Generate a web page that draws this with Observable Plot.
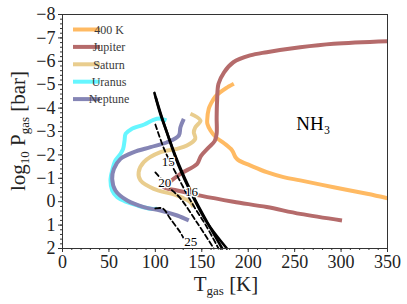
<!DOCTYPE html>
<html><head><meta charset="utf-8">
<script src="https://cdn.jsdelivr.net/npm/d3@7"></script>
<script src="https://cdn.jsdelivr.net/npm/@observablehq/plot@0.6"></script>
<style>body{margin:0;background:#fff} svg text{font-family:"Liberation Serif",serif}</style>
</head><body><div id="chart"></div>
<script>
// ---- data ----
const seriesNames  = ["400 K", "Jupiter", "Saturn", "Uranus", "Neptune"];
const seriesColors = ["#ffba63", "#b56b6b", "#e9cd8e", "#66f6ff", "#8585b5"];

const t400 = [184.5, 176, 170, 164.8, 160, 157.5, 155.8, 156, 159.4, 165, 174, 182.7, 186.3, 190, 202, 220, 238, 256, 292, 328, 350];
const p400 = [-5.04, -4.85, -4.68, -4.5, -4.2, -3.97, -3.47, -3.33, -3.04, -2.76, -2.5, -2.19, -1.9, -1.76, -1.55, -1.26, -1.05, -0.91, -0.62, -0.34, -0.15];

const tJup = [350, 292, 256, 220, 202, 184, 174, 168, 166.5, 166, 166, 164, 157, 149, 145, 127, 112.8, 109, 123.5, 148.6, 184, 220, 256, 301];
const pJup = [-6.86, -6.75, -6.6, -6.39, -6.25, -5.96, -5.53, -5.04, -4.32, -3.61, -2.9, -2.6, -2.3, -1.95, -1.62, -1.19, -0.76, -0.62, -0.48, -0.26, 0.0, 0.23, 0.52, 0.8];

const tSat = [137.8, 148.6, 143, 141.4, 143, 134, 123.5, 105.5, 87.5, 82, 84, 98.3, 123.5, 137.8, 141];
const pSat = [-3.76, -3.47, -3.18, -2.97, -2.69, -2.4, -2.26, -2.12, -1.69, -1.26, -0.91, -0.55, -0.26, 0.02, 0.23];

const tUra = [102, 94.8, 80.4, 69.7, 59, 53.5, 51.7, 53.5, 57, 62.5, 65.3, 66.8, 68, 74, 88, 98, 105, 112];
const pUra = [0.3, 0.3, 0.16, 0.02, -0.19, -0.48, -0.91, -1.33, -1.76, -2.05, -2.26, -2.6, -2.9, -3.1, -3.3, -3.5, -3.55, -3.48];

const tNep = [136, 123.5, 105.5, 87.5, 69.7, 57, 53.5, 55.3, 62.5, 76.8, 94.8, 112.7, 125.3, 127, 130.6];
const pNep = [0.8, 0.59, 0.38, 0.23, -0.05, -0.48, -0.98, -1.4, -1.83, -2.12, -2.33, -2.54, -2.83, -3.18, -3.54];

// condensation curves (black)
const tSolidA = [99, 105, 112, 125, 140, 155, 177];
const pSolidA = [-4.65, -3.8, -3.0, -1.55, -0.25, 0.85, 2.0];
const tSolidB = [100.5, 110, 125, 140, 155, 172];
const pSolidB = [-4.45, -3.25, -1.62, -0.3, 0.82, 2.0];
const tDashC = [100, 110, 125, 140, 155, 168];
const pDashC = [-3.3, -2.2, -1.0, 0.1, 1.05, 2.0];
const tDashD = [100, 115, 127, 145, 163];
const pDashD = [-1.25, -0.6, -0.14, 0.9, 2.0];
const tDashE = [100, 108, 116, 127, 130];
const pDashE = [0.29, 0.29, 0.72, 1.32, 1.53];

const curveLabels = ["15", "20", "16", "25"];
const curveLabelT = [114, 110, 139, 138];
const curveLabelP = [-1.72, -0.82, -0.41, 1.7];

const xTicks = [0, 50, 100, 150, 200, 250, 300, 350];
const yTicks = [-8, -7, -6, -5, -4, -3, -2, -1, 0, 1, 2];
const xMinor = d3.range(0, 351, 10);
const yMinor = d3.range(-8, 2.001, 0.2).map(v => Math.round(v * 10) / 10);

// ---- build ----
const zip = (ts, ps) => ts.map((t, i) => ({t, p: ps[i]}));
const series = [zip(t400, p400), zip(tJup, pJup), zip(tSat, pSat), zip(tUra, pUra), zip(tNep, pNep)];
const font = "Liberation Serif";

const lineMarks = series.map((d, i) =>
  Plot.line(d, {x: "t", y: "p", stroke: seriesColors[i], strokeWidth: 4, curve: "catmull-rom", strokeLinecap: "butt"}));

const blackMarks = [
  Plot.line(zip(tSolidB, pSolidB), {x: "t", y: "p", stroke: "black", strokeWidth: 2.6, curve: "catmull-rom"}),
  Plot.line(zip(tSolidA, pSolidA), {x: "t", y: "p", stroke: "black", strokeWidth: 2.6, curve: "catmull-rom"}),
  Plot.line(zip(tDashC, pDashC), {x: "t", y: "p", stroke: "black", strokeWidth: 1.8, strokeDasharray: "5,3", curve: "catmull-rom"}),
  Plot.line(zip(tDashD, pDashD), {x: "t", y: "p", stroke: "black", strokeWidth: 1.8, strokeDasharray: "5,3", curve: "catmull-rom"}),
  Plot.line(zip(tDashE, pDashE), {x: "t", y: "p", stroke: "black", strokeWidth: 1.8, strokeDasharray: "5,3", curve: "catmull-rom"})
];

const labelData = curveLabels.map((s, i) => ({s, t: curveLabelT[i], p: curveLabelP[i]}));

const plot = Plot.plot({
  width: 407, height: 304,
  marginLeft: 62, marginRight: 20, marginTop: 14, marginBottom: 56,
  style: {fontFamily: font, background: "white"},
  x: {domain: [0, 350], axis: null},
  y: {domain: [-8, 2], reverse: true, axis: null},
  marks: [
    ...lineMarks,
    ...blackMarks,
    Plot.text(labelData, {x: "t", y: "p", text: "s", fontSize: 13, fontFamily: font, fill: "black", stroke: "white", strokeWidth: 2.5}),
    Plot.text(["NH₃"], {x: 270, y: -3.34, text: d => d, fontSize: 19, fontFamily: font, fill: "black"}),
    Plot.frame({stroke: "#333", strokeWidth: 1}),
    Plot.axisX({ticks: xMinor, tickSize: 2, tickFormat: () => "", label: null, stroke: "#333"}),
    Plot.axisX({ticks: xTicks, tickSize: 4, tickPadding: 3, label: null, fontSize: 18, fontFamily: font, fill: "#222", stroke: "#333"}),
    Plot.axisY({ticks: yMinor, tickSize: 2, tickFormat: () => "", label: null, stroke: "#333"}),
    Plot.axisY({ticks: yTicks, tickSize: 4, tickPadding: 3, label: null, fontSize: 18, fontFamily: font, fill: "#222", stroke: "#333"})
  ]
});

const svg = d3.select(plot);
// legend
seriesNames.forEach((name, i) => {
  const y = 29.5 + i * 17.4;
  svg.append("line").attr("x1", 73).attr("x2", 100).attr("y1", y).attr("y2", y)
    .attr("stroke", seriesColors[i]).attr("stroke-width", 4);
  svg.append("text").attr("x", 109).attr("y", y).attr("dy", "0.35em")
    .attr("font-family", font).attr("font-size", 12).attr("fill", "#3a3a3a").text(name);
});
// x label
const xl = svg.append("text").attr("x", 226).attr("y", 291).attr("text-anchor", "middle")
  .attr("font-family", font).attr("font-size", 21).attr("fill", "#222");
xl.append("tspan").text("T");
xl.append("tspan").attr("font-size", 13).attr("dy", 4).text("gas");
xl.append("tspan").attr("dy", -4).text(" [K]");
// y label
const yl = svg.append("text").attr("transform", "translate(25,131) rotate(-90)").attr("text-anchor", "middle")
  .attr("font-family", font).attr("font-size", 21).attr("fill", "#222");
yl.append("tspan").text("log");
yl.append("tspan").attr("font-size", 13).attr("dy", 4).text("10");
yl.append("tspan").attr("dy", -4).text(" P");
yl.append("tspan").attr("font-size", 13).attr("dy", 4).text("gas");
yl.append("tspan").attr("dy", -4).text(" [bar]");

document.getElementById("chart").appendChild(plot);
</script>
</body></html>
